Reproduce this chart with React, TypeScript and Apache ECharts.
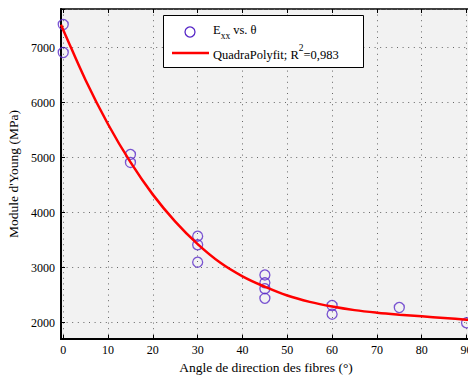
import React, { useEffect, useRef } from "react";
import * as echarts from "echarts";

// Measured data points (angle in degrees, Young's modulus in MPa)
const angles = [0, 0, 15, 15, 30, 30, 30, 45, 45, 45, 45, 60, 60, 75, 90];
const moduli = [7418, 6909, 5055, 4910, 3569, 3413, 3096, 2864, 2722, 2615, 2440, 2309, 2151, 2273, 1995];

// Fitted curve
const fitAngles = [-0.5, 0, 5, 10, 15, 20, 25, 30, 35, 40, 45, 50, 55, 60, 65, 70, 75, 80, 85, 90, 91];
const fitValues = [7412, 7320, 6405, 5605, 4915, 4325, 3835, 3425, 3090, 2840, 2650, 2490, 2375, 2290, 2225, 2178, 2142, 2112, 2082, 2050, 2044];

const xTickLabels = ["0", "10", "20", "30", "40", "50", "60", "70", "80", "90"];
const yTickLabels = ["2000", "3000", "4000", "5000", "6000", "7000"];

const FONT = "'Liberation Serif', 'DejaVu Serif', serif";
const PURPLE = "#5a2bc8";

export default function App() {
  const ref = useRef<HTMLDivElement>(null);

  useEffect(() => {
    if (!ref.current) return;
    const chart = echarts.init(ref.current, undefined, { renderer: "svg" });
    const scatterData = angles.map((a, i) => [a, moduli[i]]);
    const fitData = fitAngles.map((a, i) => [a, fitValues[i]]);

    const gridLine = { show: true, lineStyle: { color: "#666", width: 1, type: [1, 4.6] as any } };

    chart.setOption({
      animation: false,
      backgroundColor: "#ffffff",
      grid: {
        left: 61,
        top: 9,
        width: 410,
        height: 330,
        show: true,
        containLabel: false,
        outerBoundsMode: "none",
        backgroundColor: "#f2f2f2",
        borderColor: "#000",
        borderWidth: 1.5,
      },
      xAxis: [
        {
          type: "value",
          min: -0.5,
          max: 91,
          splitNumber: 10,
          axisLine: { show: true, onZero: false, lineStyle: { color: "#000", width: 2 } },
          axisTick: { show: true, inside: true, length: 4, lineStyle: { color: "#000", width: 1 } },
          axisLabel: {
            color: "#000",
            fontFamily: FONT,
            fontSize: 12,
            margin: 5,
            hideOverlap: false,
            formatter: (v: number) => (xTickLabels.includes(String(v)) ? String(v) : ""),
          },
          splitLine: gridLine,
          name: "Angle de direction des fibres (°)",
          nameLocation: "middle",
          nameGap: 20,
          nameTextStyle: { color: "#000", fontFamily: FONT, fontSize: 13.5 },
        },
        {
          type: "value",
          position: "top",
          min: -0.5,
          max: 91,
          splitNumber: 10,
          axisLine: { show: false },
          axisTick: { show: true, inside: true, length: 4, lineStyle: { color: "#000", width: 1 } },
          axisLabel: { show: false },
          splitLine: { show: false },
        },
      ],
      yAxis: {
        type: "value",
        min: 1700,
        max: 7700,
        splitNumber: 6,
        axisLine: { show: true, onZero: false, lineStyle: { color: "#000", width: 2 } },
        axisTick: { show: true, inside: true, length: 4, lineStyle: { color: "#000", width: 1 } },
        axisLabel: {
          color: "#000",
          fontFamily: FONT,
          fontSize: 12,
          margin: 6,
          formatter: (v: number) => (yTickLabels.includes(String(v)) ? String(v) : ""),
        },
        splitLine: gridLine,
        name: "Module d'Young (MPa)",
        nameLocation: "middle",
        nameGap: 37,
        nameTextStyle: { color: "#000", fontFamily: FONT, fontSize: 13.5 },
      },
      series: [
        {
          type: "scatter",
          data: scatterData,
          symbol: "circle",
          symbolSize: 10,
          itemStyle: { color: "transparent", borderColor: PURPLE, borderWidth: 1.3 },
          z: 3,
        },
        {
          type: "line",
          data: fitData,
          smooth: 0.4,
          showSymbol: false,
          symbol: "none",
          lineStyle: { color: "#ff0000", width: 2.5 },
          z: 4,
        },
      ],
      graphic: [
        {
          type: "rect",
          shape: { x: 163.5, y: 15.5, width: 200, height: 52 },
          style: { fill: "#fff", stroke: "#000", lineWidth: 1 },
          z: 100,
        },
        {
          type: "circle",
          shape: { cx: 190, cy: 32, r: 5 },
          style: { fill: "none", stroke: PURPLE, lineWidth: 1.3 },
          z: 101,
        },
        {
          type: "line",
          shape: { x1: 172, y1: 53, x2: 209, y2: 53 },
          style: { stroke: "#ff0000", lineWidth: 2.5 },
          z: 101,
        },
        {
          type: "text",
          x: 213,
          y: 23,
          z: 101,
          style: {
            text: "{m|E}{s|xx}{m| vs. θ}",
            fill: "#000",
            font: `12.5px ${FONT}`,
            rich: {
              m: { fontFamily: FONT, fontSize: 12.5, lineHeight: 18, verticalAlign: "top", fill: "#000" },
              s: { fontFamily: FONT, fontSize: 9.5, lineHeight: 18, verticalAlign: "bottom", fill: "#000" },
            },
          },
        },
        {
          type: "text",
          x: 213,
          y: 43,
          z: 101,
          style: {
            text: "{m|QuadraPolyfit; R}{p|2}{m|=0,983}",
            fill: "#000",
            font: `12.5px ${FONT}`,
            rich: {
              m: { fontFamily: FONT, fontSize: 12.5, lineHeight: 18, verticalAlign: "bottom", fill: "#000" },
              p: { fontFamily: FONT, fontSize: 9.5, lineHeight: 16, verticalAlign: "top", fill: "#000" },
            },
          },
        },
      ],
    });
    return () => chart.dispose();
  }, []);

  return (
    <div
      ref={ref}
      style={{ position: "fixed", left: 0, top: 0, width: 468, height: 375, overflow: "hidden" }}
    />
  );
}
